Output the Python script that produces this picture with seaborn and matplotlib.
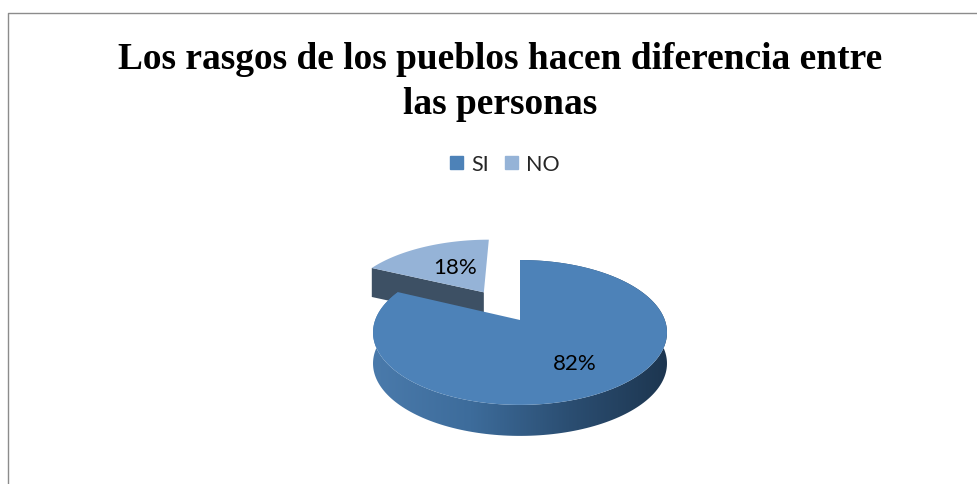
import numpy as np
import matplotlib
matplotlib.use("Agg")
import matplotlib.pyplot as plt
from matplotlib.patches import Patch, Polygon
import seaborn as sns

title = "Los rasgos de los pueblos hacen diferencia entre\nlas personas"
categories = ["SI", "NO"]
values = [82, 18]
pct_labels = ["82%", "18%"]

sns.set_theme(style="white")
plt.rcParams['font.family'] = ['Lato', 'DejaVu Sans']

palette = sns.color_palette(["#4d82b8", "#95b3d7"])
wall_cmap = sns.blend_palette(["#4a7aab", "#3d6c9b", "#2b4e72", "#1d3650"], as_cmap=True)

# perspective of the tilted pie, in pixels
CX, CY = 520, 321
A, B, K = 144.8, 70.3, 0.172
DEPTH = 31


def project(x, y):
    d = 1 + K * y
    return CX + A * x / d, CY - B * y / d


def arc(wedge, n=200):
    t = np.radians(np.linspace(wedge.theta1, wedge.theta2, n))
    x0, y0 = wedge.center
    return project(x0 + wedge.r * np.cos(t), y0 + wedge.r * np.sin(t))


fig = plt.figure(figsize=(9.78, 4.85), dpi=100, facecolor="white")
ax = fig.add_axes([0, 0, 1, 1])

# the pie only gives the angles, it is redrawn tilted below
pie_ax = fig.add_axes([0, 0, 0.1, 0.1])
wedges, _ = pie_ax.pie(values, explode=[0, 0.5], startangle=90, counterclock=False)
pie_ax.set_visible(False)
big, small = wedges

# NO slice, cut side then top
sx, sy = arc(small)
ax_no, ay_no = project(*small.center)
i = np.argmin(sx)
cut = np.array([[ax_no, ay_no], [sx[i], sy[i]], [sx[i], sy[i] + DEPTH - 2], [ax_no, ay_no + DEPTH - 2]])
ax.add_patch(Polygon(cut, closed=True, facecolor="#3d5064", edgecolor="none", zorder=1))
ax.fill(np.r_[ax_no, sx], np.r_[ay_no, sy], color=palette[1], lw=0, zorder=2)

# SI slice, rounded side with gradient then top
bx, by = arc(big)
wall = np.r_[np.c_[bx, by], np.c_[bx, by + DEPTH][::-1]]
clip = Polygon(wall, closed=True, transform=ax.transData, facecolor="none", edgecolor="none")
ax.add_patch(clip)
im = ax.imshow(np.linspace(0, 1, 256).reshape(1, -1), cmap=wall_cmap, aspect="auto",
               extent=[bx.min(), bx.max(), by.max() + DEPTH, by.min()], zorder=3)
im.set_clip_path(clip)
ax0, ay0 = project(*big.center)
ax.fill(np.r_[ax0, bx], np.r_[ay0, by], color=palette[0], lw=0, zorder=4)

ax.text(575, 364, pct_labels[0], fontsize=16, color="black", ha="center", va="center", zorder=5)
ax.text(455, 268, pct_labels[1], fontsize=16, color="black", ha="center", va="center", zorder=5)

ax.text(500, 82, title, fontsize=26.9, fontweight="bold", family="Liberation Serif", color="black",
        ha="center", va="center", linespacing=1.38)

handles = [Patch(color=palette[0], label=categories[0]), Patch(color=palette[1], label=categories[1])]
ax.legend(handles=handles, ncol=2, frameon=False, fontsize=15.5, loc="center",
          bbox_to_anchor=(505, 165), bbox_transform=ax.transData,
          handlelength=0.6, handleheight=0.6, handletextpad=0.4, columnspacing=0.7)

# chart frame, cut by the page on the right and bottom
ax.plot([8, 8, 978], [485, 14, 14], color="#8c8c8c", lw=1)

ax.set_xlim(0, 978)
ax.set_ylim(485, 0)
ax.axis("off")

fig.savefig("out.png", dpi=100)
